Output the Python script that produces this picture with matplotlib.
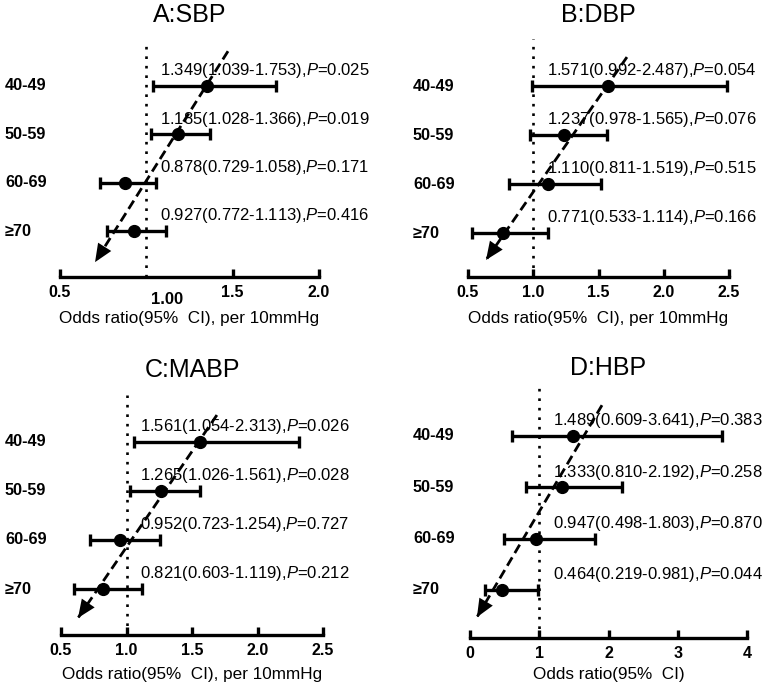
import matplotlib
matplotlib.use("Agg")
import numpy as np
import matplotlib.pyplot as plt
from matplotlib.transforms import blended_transform_factory

plt.rcParams["font.family"] = ["Liberation Sans", "DejaVu Sans"]
plt.rcParams["mathtext.fontset"] = "custom"
plt.rcParams["mathtext.rm"] = "Liberation Sans"
plt.rcParams["mathtext.it"] = "Liberation Sans:italic"

groups = ["40-49", "50-59", "60-69", "≥70"]
rows = [4, 3, 2, 1]

titles = ["A:SBP", "B:DBP", "C:MABP", "D:HBP"]

sbp_or = [1.349, 1.185, 0.878, 0.927]
sbp_lo = [1.039, 1.028, 0.729, 0.772]
sbp_hi = [1.753, 1.366, 1.058, 1.113]
sbp_p = ["0.025", "0.019", "0.171", "0.416"]

dbp_or = [1.571, 1.237, 1.110, 0.771]
dbp_lo = [0.992, 0.978, 0.811, 0.533]
dbp_hi = [2.487, 1.565, 1.519, 1.114]
dbp_p = ["0.054", "0.076", "0.515", "0.166"]

mabp_or = [1.561, 1.265, 0.952, 0.821]
mabp_lo = [1.054, 1.026, 0.723, 0.603]
mabp_hi = [2.313, 1.561, 1.254, 1.119]
mabp_p = ["0.026", "0.028", "0.727", "0.212"]

hbp_or = [1.489, 1.333, 0.947, 0.464]
hbp_lo = [0.609, 0.810, 0.498, 0.219]
hbp_hi = [3.641, 2.192, 1.803, 0.981]
hbp_p = ["0.383", "0.258", "0.870", "0.044"]

# x ticks per panel
ticks_a = [0.5, 1.5, 2.0]
ticks_b = [0.5, 1.0, 1.5, 2.0, 2.5]
ticks_c = [0.5, 1.0, 1.5, 2.0, 2.5]
ticks_d = [0, 1, 2, 3, 4]
xlim_a = (0.5, 2.0)
xlim_b = (0.5, 2.5)
xlim_c = (0.5, 2.5)
xlim_d = (0, 4)

# dashed trend arrows: (start, tip)
trend_a = [(1.473, 4.72), (0.703, 0.356)]
trend_b = [(1.718, 4.59), (0.638, 0.45)]
trend_c = [(1.690, 4.55), (0.630, 0.41)]
trend_d = [(1.906, 4.60), (0.100, 0.47)]

xlab_bp = "Odds ratio(95%  CI), per 10mmHg"
xlab_hbp = "Odds ratio(95%  CI)"

W, H = 780, 691
fig = plt.figure(figsize=(W / 100, H / 100), dpi=100)

# pixel layout: x0, x1, axis_y, row4_y, row1_y, label_x, title_y, labelpad
layout = [
    (60, 319, 277, 86, 231, 5, 15, 8),
    (468, 729, 277, 86, 233, 413, 15, 8),
    (61, 323, 635, 442, 589, 5, 370, 6),
    (470, 747, 638, 436, 590, 413, 368, 4),
]

panels = [
    (sbp_or, sbp_lo, sbp_hi, sbp_p, ticks_a, xlim_a, trend_a, xlab_bp),
    (dbp_or, dbp_lo, dbp_hi, dbp_p, ticks_b, xlim_b, trend_b, xlab_bp),
    (mabp_or, mabp_lo, mabp_hi, mabp_p, ticks_c, xlim_c, trend_c, xlab_bp),
    (hbp_or, hbp_lo, hbp_hi, hbp_p, ticks_d, xlim_d, trend_d, xlab_hbp),
]

for i, (pan, lay) in enumerate(zip(panels, layout)):
    ors, lo, hi, pv, ticks, xlim, trend, xlab = pan
    x0, x1, axis_y, r4, r1, lab_x, title_y, lpad = lay
    s = (r1 - r4) / 3
    top_px = r4 - s
    ymin = 1 - (axis_y - r1) / s
    ax = fig.add_axes([x0 / W, 1 - axis_y / H, (x1 - x0) / W, (axis_y - top_px) / H])
    ax.set_xlim(*xlim)
    ax.set_ylim(ymin, 5.0)

    ors = np.array(ors)
    xerr = [ors - np.array(lo), np.array(hi) - ors]
    ax.errorbar(ors, rows, xerr=xerr, fmt="o", color="black", ms=8.5,
                elinewidth=2.4, capsize=4, capthick=2.4, zorder=3, clip_on=False)

    # reference line at OR = 1
    ax.vlines(1, ymin, 4.95, colors="black", linestyles=(0, (1, 2.6)), lw=1.9, zorder=1)

    for r, o, l, h, p in zip(rows, ors, lo, hi, pv):
        ax.annotate(f"{o:.3f}({l:.3f}-{h:.3f}),$\\mathit{{P}}$={p}", xy=(1, r),
                    xytext=(10, 11), textcoords="offset points",
                    ha="left", va="center", fontsize=12, zorder=2)

    # dashed trend arrow
    (sx, sy), (tx, ty) = trend
    ax.plot([sx, tx], [sy, ty], color="black", lw=2.0, ls=(0, (3.5, 1.8)),
            zorder=4, clip_on=False)
    ax.annotate("", xy=(tx, ty), xytext=(sx, sy),
                arrowprops=dict(arrowstyle="-|>,head_length=0.65,head_width=0.28",
                                lw=0, fc="black", mutation_scale=20,
                                shrinkA=0, shrinkB=0), zorder=5)

    trans = blended_transform_factory(fig.transFigure, ax.transData)
    for r, g in zip(rows, groups):
        ax.text(lab_x / W, r, g, transform=trans, ha="left", va="center",
                fontsize=11.7, fontweight="bold")

    for sp in ["top", "right", "left"]:
        ax.spines[sp].set_visible(False)
    ax.spines["bottom"].set_linewidth(2.4)
    ax.set_yticks([])
    ax.set_xticks(ticks)
    ax.set_xticklabels([f"{t:g}" if xlim[1] == 4 else f"{t:.1f}" for t in ticks],
                       fontweight="bold", fontsize=11.5)
    ax.tick_params(axis="x", direction="in", length=6, width=2.4, pad=6)
    ax.set_xlabel(xlab, fontsize=12.3, labelpad=lpad)
    ax.patch.set_visible(False)

    if i == 0:
        ax.annotate("1.00", xy=(1.12, 0), xycoords=("data", "axes fraction"),
                    xytext=(0, -11), textcoords="offset points", ha="center",
                    va="top", fontsize=12, fontweight="bold")

    fig.text((x0 + x1) / 2 / W, 1 - title_y / H, titles[i], ha="center",
             va="center", fontsize=18)

fig.savefig("out.png", dpi=100)
